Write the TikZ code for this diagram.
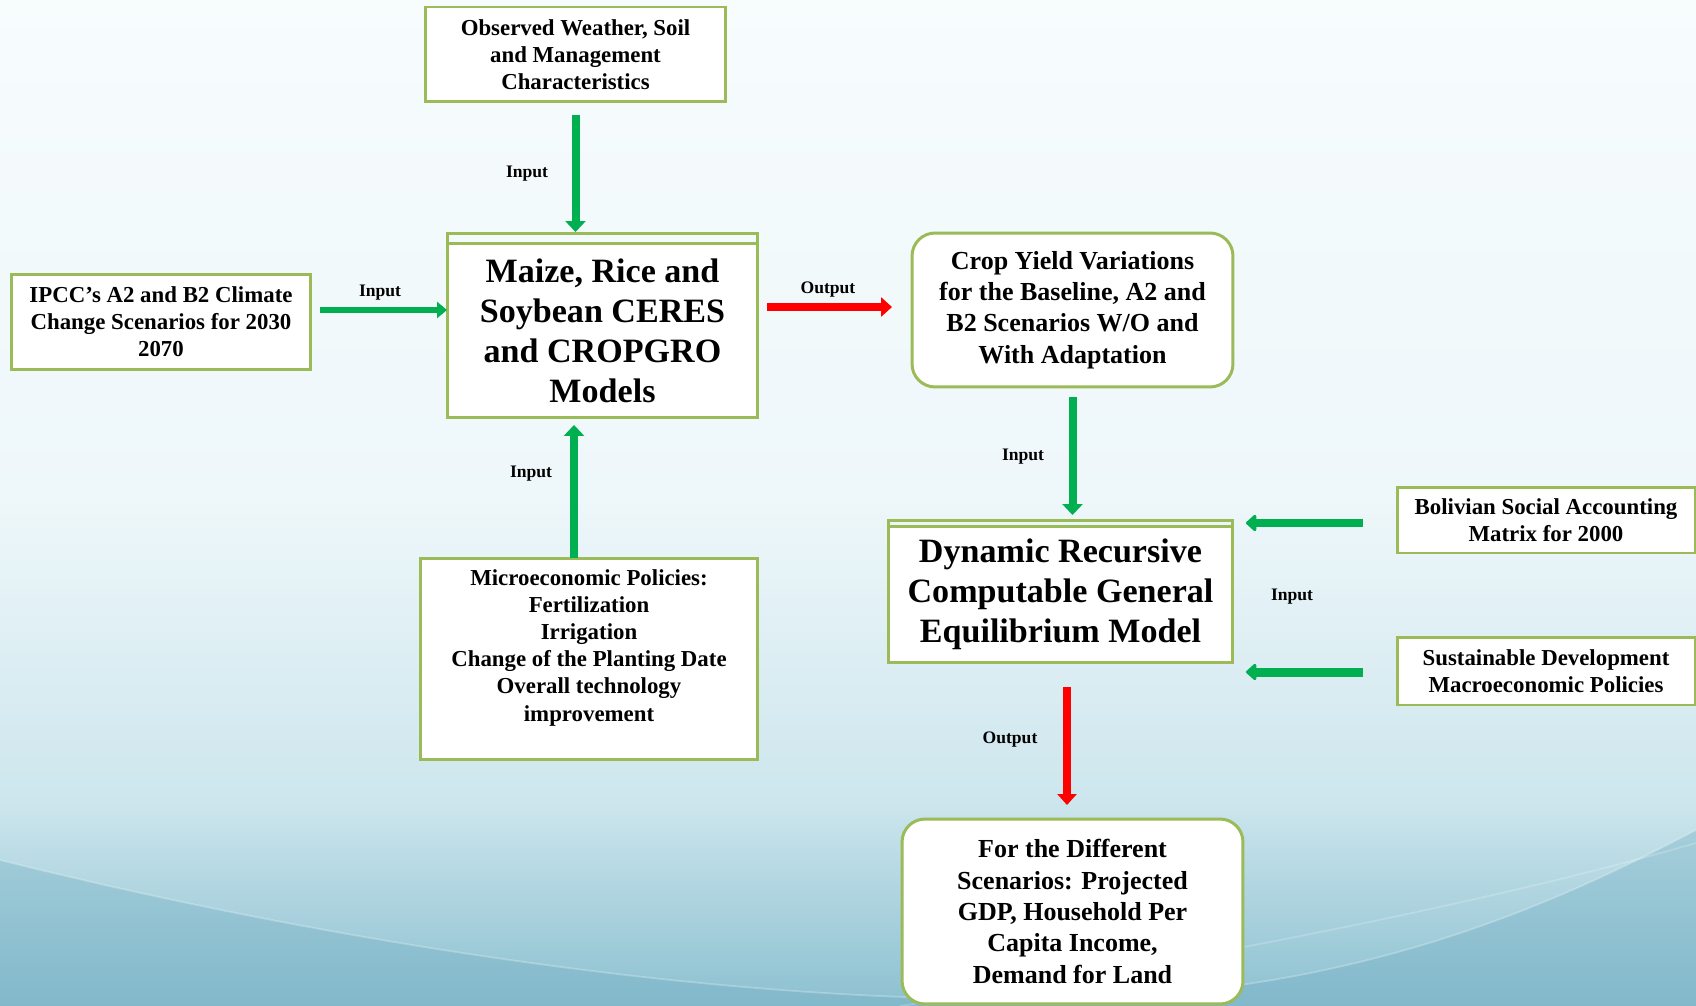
\documentclass[tikz,border=0pt]{standalone}
\usepackage{fontspec}
\setmainfont{Liberation Serif}
\usetikzlibrary{arrows.meta}
\definecolor{boxgreen}{RGB}{155,187,89}
\definecolor{arrowgreen}{RGB}{0,176,80}
\definecolor{arrowred}{RGB}{255,0,0}
\definecolor{bgtop}{RGB}{247,252,253}
\definecolor{bgmid}{RGB}{238,247,250}
\definecolor{bglow}{RGB}{205,230,237}
\definecolor{bgbot}{RGB}{140,192,208}
\definecolor{bgwave}{RGB}{110,172,194}

\begin{document}
\begin{tikzpicture}[x=0.02cm,y=-0.02cm,
   smallbox/.style={draw=boxgreen,line width=1.7pt,fill=white,align=center,inner sep=0pt,outer sep=0pt,
      font=\fontsize{13}{15.4}\selectfont\bfseries},
   bigbox/.style={smallbox,font=\fontsize{19.4}{22.8}\selectfont\bfseries},
   roundbox/.style={smallbox,rounded corners=0.46cm,font=\fontsize{14.8}{17.8}\selectfont\bfseries},
   lbl/.style={font=\fontsize{10}{11}\selectfont\bfseries,inner sep=1pt},
   greenarrow/.style={draw=arrowgreen,line width=0.16cm,-{Triangle[width=0.4cm,length=0.22cm]}},
   thinarrow/.style={greenarrow,line width=0.13cm,-{Triangle[width=0.32cm,length=0.2cm]}},
   widearrow/.style={greenarrow,line width=0.18cm,-{Triangle[width=0.38cm,length=0.22cm,round]}},
   redarrow/.style={draw=arrowred,line width=0.15cm,-{Triangle[width=0.38cm,length=0.22cm]}}]
   \useasboundingbox (0,0) rectangle (1696,1006);
   \fill[top color=bgtop,bottom color=bgmid] (0,0) rectangle (1696,500);
   \fill[top color=bgmid,bottom color=bglow] (0,500) rectangle (1696,800);
   \fill[top color=bglow,bottom color=bgbot] (0,800) rectangle (1696,1006);
   \fill[bgwave,opacity=0.35] (0,860) .. controls (400,960) and (900,1030) .. (1240,985)
      .. controls (1450,955) and (1600,880) .. (1696,830) -- (1696,1006) -- (0,1006) -- cycle;
   \draw[white,opacity=0.25,line width=1pt] (0,860) .. controls (400,960) and (900,1030) .. (1240,985)
      .. controls (1450,955) and (1600,880) .. (1696,830);
   \draw[white,opacity=0.2,line width=1pt] (900,1006) .. controls (1200,960) and (1500,900) .. (1696,843);

   \path (575.5,54.5) node[smallbox,minimum width=6cm,minimum height=1.9cm] (obs)
      {Observed Weather, Soil\\and Management\\Characteristics};
   \path (161,322) node[smallbox,minimum width=6cm,minimum height=1.92cm] (ipcc)
      {IPCC’s A2 and B2 Climate\\Change Scenarios for 2030\\2070};
   \path (602.5,330.5) node[bigbox,minimum width=6.22cm,minimum height=3.5cm] (maize)
      {Maize, Rice and\\Soybean CERES\\and CROPGRO\\Models};
   \draw[boxgreen,line width=1.7pt] (maize.north west) -- ++(0,-10) -| (maize.north east);
   \path (589,659) node[smallbox,minimum width=6.76cm,minimum height=4.04cm] (micro)
      {Microeconomic Policies:\\Fertilization\\Irrigation\\Change of the Planting Date\\Overall technology\\improvement\\\mbox{}};
   \path (1072.5,310) node[roundbox,minimum width=6.42cm,minimum height=3.08cm] (crop)
      {Crop Yield Variations\\for the Baseline, A2 and\\B2 Scenarios W/O and\\With Adaptation};
   \path (1060.5,594.5) node[bigbox,minimum width=6.9cm,minimum height=2.74cm] (cge)
      {Dynamic Recursive\\Computable General\\Equilibrium Model};
   \draw[boxgreen,line width=1.7pt] (cge.north west) -- ++(0,-6) -| (cge.north east);
   \path (1546,520) node[smallbox,minimum width=5.96cm,minimum height=1.32cm] (sam)
      {Bolivian Social Accounting\\Matrix for 2000};
   \path (1546,671) node[smallbox,minimum width=5.96cm,minimum height=1.36cm] (sdp)
      {Sustainable Development\\Macroeconomic Policies};
   \path (1072.5,911.5) node[roundbox,minimum width=6.82cm,minimum height=3.7cm] (proj)
      {For the Different\\Scenarios: Projected\\GDP, Household Per\\Capita Income,\\Demand for Land};

   \draw[greenarrow,shorten <=0.26cm,shorten >=0.22cm] (obs.south) -- (obs.south |- maize.north);
   \draw[thinarrow,shorten <=0.18cm] ([yshift=0.24cm]ipcc.east) -- ([yshift=0.24cm]ipcc.east -| maize.west);
   \draw[redarrow,shorten <=0.18cm,shorten >=0.4cm] ([yshift=0.47cm]maize.east) -- ([yshift=0.47cm]maize.east -| crop.west);
   \draw[greenarrow,shorten >=0.14cm] ([xshift=-0.3cm]micro.north) -- ([xshift=-0.3cm]micro.north |- maize.south);
   \draw[greenarrow,shorten <=0.2cm,shorten >=0.22cm] (crop.south) -- (crop.south |- cge.north);
   \draw[widearrow,shorten <=0.68cm,shorten >=0.26cm] ([yshift=-0.06cm]sam.west) -- ([yshift=-0.06cm]sam.west -| cge.east);
   \draw[widearrow,shorten <=0.68cm,shorten >=0.26cm] ([yshift=-0.02cm]sdp.west) -- ([yshift=-0.02cm]sdp.west -| cge.east);
   \draw[redarrow,shorten <=0.48cm,shorten >=0.28cm] ([xshift=0.13cm]cge.south) -- ([xshift=0.13cm]cge.south |- proj.north);

   \path (527,174) node[lbl] (in1) {Input};
   \path (380,293) node[lbl] (in2) {Input};
   \path (828,290) node[lbl] (out1) {Output};
   \path (531,474) node[lbl] (in3) {Input};
   \path (1023,457) node[lbl] (in4) {Input};
   \path (1292,597) node[lbl] (in5) {Input};
   \path (1010,740) node[lbl] (out2) {Output};
\end{tikzpicture}
\end{document}
